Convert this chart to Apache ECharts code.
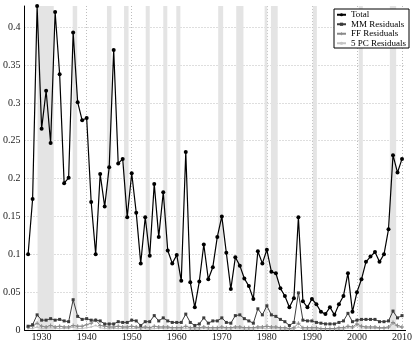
<!DOCTYPE html>
<html>
<head>
<meta charset="utf-8">
<script src="https://cdn.jsdelivr.net/npm/echarts@6/dist/echarts.min.js"></script>
<style>
html,body{margin:0;padding:0;background:#fff;}
#c{width:415px;height:342px;}
</style>
</head>
<body>
<div id="c"></div>
<script>
const years = [1927,1928,1929,1930,1931,1932,1933,1934,1935,1936,1937,1938,1939,1940,1941,1942,1943,1944,1945,1946,1947,1948,1949,1950,1951,1952,1953,1954,1955,1956,1957,1958,1959,1960,1961,1962,1963,1964,1965,1966,1967,1968,1969,1970,1971,1972,1973,1974,1975,1976,1977,1978,1979,1980,1981,1982,1983,1984,1985,1986,1987,1988,1989,1990,1991,1992,1993,1994,1995,1996,1997,1998,1999,2000,2001,2002,2003,2004,2005,2006,2007,2008,2009,2010];

const total = [0.100,0.173,0.428,0.266,0.316,0.247,0.420,0.338,0.194,0.201,0.393,0.301,0.277,0.280,0.169,0.100,0.206,0.163,0.215,0.370,0.220,0.226,0.149,0.207,0.155,0.088,0.149,0.098,0.193,0.123,0.182,0.105,0.088,0.099,0.065,0.235,0.063,0.030,0.064,0.113,0.067,0.083,0.123,0.150,0.102,0.054,0.096,0.085,0.068,0.058,0.041,0.104,0.088,0.106,0.077,0.075,0.055,0.045,0.030,0.042,0.149,0.038,0.030,0.041,0.034,0.024,0.021,0.030,0.020,0.034,0.045,0.075,0.024,0.050,0.067,0.090,0.097,0.103,0.090,0.100,0.133,0.231,0.208,0.226];

const mmResiduals = [0.005,0.007,0.020,0.013,0.013,0.015,0.013,0.014,0.012,0.011,0.040,0.018,0.014,0.015,0.013,0.013,0.012,0.008,0.008,0.008,0.011,0.010,0.010,0.013,0.012,0.006,0.011,0.011,0.019,0.012,0.016,0.012,0.010,0.010,0.010,0.021,0.010,0.006,0.008,0.016,0.009,0.012,0.012,0.016,0.010,0.009,0.019,0.020,0.015,0.012,0.009,0.028,0.020,0.032,0.020,0.018,0.014,0.011,0.006,0.010,0.049,0.013,0.012,0.012,0.010,0.009,0.008,0.008,0.008,0.010,0.012,0.022,0.011,0.013,0.014,0.014,0.014,0.014,0.011,0.011,0.012,0.025,0.016,0.019];

const ffResiduals = [0.004,0.005,0.009,0.005,0.004,0.006,0.004,0.005,0.004,0.004,0.006,0.005,0.005,0.007,0.009,0.013,0.006,0.005,0.004,0.004,0.005,0.004,0.004,0.005,0.004,0.003,0.004,0.003,0.005,0.004,0.004,0.004,0.003,0.003,0.003,0.005,0.003,0.003,0.003,0.004,0.003,0.003,0.003,0.004,0.003,0.003,0.004,0.004,0.003,0.003,0.003,0.004,0.004,0.005,0.004,0.004,0.003,0.003,0.002,0.003,0.009,0.003,0.003,0.003,0.003,0.002,0.002,0.002,0.002,0.003,0.003,0.005,0.004,0.008,0.005,0.004,0.004,0.004,0.003,0.003,0.004,0.010,0.006,0.004];

const pcResiduals = [0.002,0.002,0.004,0.002,0.002,0.003,0.002,0.002,0.002,0.002,0.004,0.002,0.002,0.003,0.004,0.006,0.003,0.002,0.002,0.002,0.002,0.002,0.002,0.002,0.002,0.001,0.002,0.001,0.002,0.002,0.002,0.002,0.001,0.001,0.001,0.002,0.001,0.001,0.001,0.002,0.001,0.001,0.001,0.002,0.001,0.001,0.002,0.002,0.001,0.001,0.001,0.002,0.002,0.002,0.002,0.002,0.001,0.001,0.001,0.001,0.004,0.001,0.001,0.001,0.001,0.001,0.001,0.001,0.001,0.001,0.001,0.003,0.002,0.006,0.003,0.002,0.002,0.002,0.002,0.002,0.002,0.008,0.004,0.003];

const recessionStart = [1929.1,1936.9,1944.5,1948.3,1953.1,1957.0,1959.9,1969.2,1973.2,1979.5,1980.9,1990.2,2000.4,2007.3];
const recessionEnd   = [1932.7,1937.9,1945.5,1949.3,1954.0,1957.9,1960.8,1970.3,1974.8,1980.1,1982.4,1991.1,2001.3,2008.7];

const seriesNames = ['Total','MM Residuals','FF Residuals','5 PC Residuals'];

const pairs = arr => years.map((y,i)=>[y,arr[i]]);
const bands = recessionStart.map((s,i)=>[{xAxis:s},{xAxis:recessionEnd[i]}]);

const font = 'Liberation Serif';
const chart = echarts.init(document.getElementById('c'), null, {renderer:'canvas'});
chart.setOption({
  animation:false,
  backgroundColor:'#fff',
  grid:{left:22.7,right:5,top:6,bottom:9,containLabel:false},
  legend:{
    data:seriesNames,
    orient:'vertical',
    left:334, top:9,
    backgroundColor:'#fff',
    borderColor:'#000', borderWidth:1, borderRadius:0,
    padding:[1,3,0,2],
    itemGap:0, itemWidth:9, itemHeight:4,
    textStyle:{fontFamily:font,fontSize:9,color:'#000',lineHeight:9.5}
  },
  xAxis:{
    type:'value', min:1926.2, max:2010.8, splitNumber:8,
    axisLine:{show:true,lineStyle:{color:'#000',width:1}},
    axisTick:{show:false},
    axisLabel:{fontFamily:font,fontSize:10,color:'#222',margin:2,showMinLabel:false,showMaxLabel:false,
      formatter:v=> (Math.abs(v%10)<1e-6 ? String(v) : '')},
    splitLine:{show:true,showMinLine:false,showMaxLine:false,lineStyle:{color:'#bdbdbd',type:[1,2],width:1}}
  },
  yAxis:{
    type:'value', min:0, max:0.428, interval:0.05,
    axisLine:{show:true,lineStyle:{color:'#000',width:1}},
    axisTick:{show:false},
    axisLabel:{fontFamily:font,fontSize:10,color:'#222',margin:4,showMaxLabel:false},
    splitLine:{show:true,showMinLine:false,showMaxLine:false,lineStyle:{color:'#bdbdbd',type:[1,2],width:1}}
  },
  series:[
    {type:'line',data:[],z:1,silent:true,
     markArea:{silent:true,itemStyle:{color:'#e4e4e4'},label:{show:false},data:bands}},
    {name:'5 PC Residuals',type:'line',z:2,data:pairs(pcResiduals),
     symbol:'circle',symbolSize:2,color:'#c4c4c4',
     lineStyle:{color:'#c4c4c4',width:1},itemStyle:{color:'#c4c4c4'}},
    {name:'FF Residuals',type:'line',z:3,data:pairs(ffResiduals),
     symbol:'path://M3,0h2v3h3v2h-3v3h-2v-3h-3v-2h3z',symbolSize:4,color:'#8a8a8a',
     lineStyle:{color:'#8a8a8a',width:1},itemStyle:{color:'#8a8a8a'}},
    {name:'MM Residuals',type:'line',z:4,data:pairs(mmResiduals),
     symbol:'rect',symbolSize:3,color:'#3c3c3c',
     lineStyle:{color:'#3c3c3c',width:1},itemStyle:{color:'#3c3c3c'}},
    {name:'Total',type:'line',z:5,data:pairs(total),
     symbol:'circle',symbolSize:4,color:'#000',
     lineStyle:{color:'#000',width:1.2},itemStyle:{color:'#000'}}
  ]
});
</script>
</body>
</html>
